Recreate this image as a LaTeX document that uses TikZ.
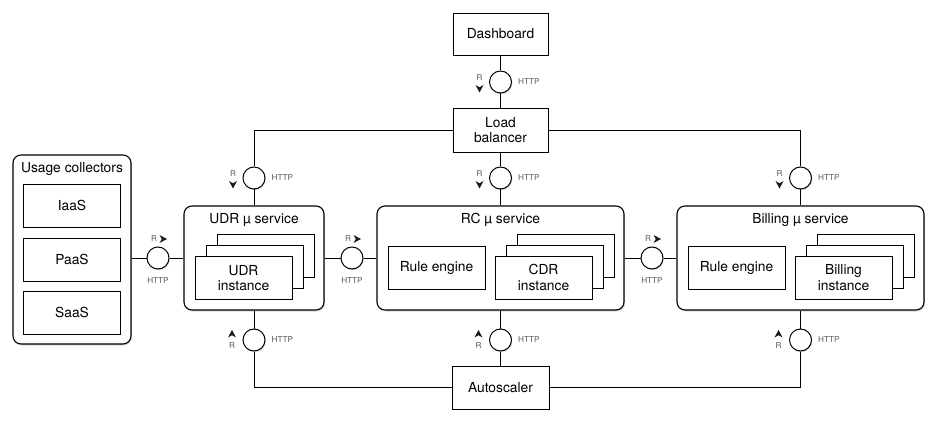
\documentclass[tikz,border=0pt]{standalone}
\usepackage{fontspec}
\setmainfont{TeX Gyre Heros}
\usetikzlibrary{shadows}

\tikzset{
  box/.style={draw, line width=0.8pt, fill=white, minimum width=97pt, minimum height=43pt, align=center, inner sep=2pt},
  service/.style={draw, line width=1.1pt, rounded corners=8pt, fill=white, drop shadow={shadow xshift=1pt, shadow yshift=-1.5pt, opacity=0.3}},
  iface/.style={circle, draw, line width=1pt, fill=white, minimum size=22pt, inner sep=0pt, drop shadow={shadow xshift=0.8pt, shadow yshift=-1.2pt, opacity=0.3}},
  small/.style={font=\fontsize{8.2}{9}\selectfont, text=black!65, inner sep=0pt},
  wire/.style={line width=0.8pt},
  rtip/.pic={\fill[black!90] (-3.5,-4) -- (4,0) -- (-3.5,4) -- (-1.2,0) -- cycle;}
}

\begin{document}
\begin{tikzpicture}[x=1pt, y=-1pt, font=\fontsize{13.8}{15.5}\selectfont]
\useasboundingbox (0,0) rectangle (937,422);

% containers
\node[service, minimum width=118pt, minimum height=189pt] (uc) at (72,249.5) {};
\node[service, minimum width=140pt, minimum height=104pt] (udr) at (254,258) {};
\node[service, minimum width=247pt, minimum height=104pt] (rc) at (500.5,258) {};
\node[service, minimum width=247pt, minimum height=104pt] (bill) at (800.5,258) {};

\node (uctitle) at (72,169) {Usage collectors};
\node (udrtitle) at (254,220) {UDR µ service};
\node (rctitle) at (500.5,220) {RC µ service};
\node (billtitle) at (800.5,220) {Billing µ service};

\node[box] (iaas) at (72,205.5) {IaaS};
\node[box] (paas) at (72,259.5) {PaaS};
\node[box] (saas) at (72,312.5) {SaaS};

% stacked instances
\foreach \d in {22, 11} {
\node[box] at (243.5 + \d, 278 - \d) {};
\node[box] at (543.5 + \d, 277.5 - \d) {};
\node[box] at (843.5 + \d, 277.5 - \d) {};
}
\node[box] (udrinst) at (243.5,278) {UDR\\instance};
\node[box] (cdrinst) at (543.5,277.5) {CDR\\instance};
\node[box] (billinst) at (843.5,277.5) {Billing\\instance};

\node[box] (rcrule) at (436.5,267.5) {Rule engine};
\node[box] (billrule) at (736.5,267.5) {Rule engine};

\node[box, minimum width=95pt, minimum height=42pt] (dash) at (500.5,34) {Dashboard};
\node[box, minimum width=95pt, minimum height=44pt] (lb) at (500.5,130) {Load\\balancer};
\node[box, minimum width=97pt, minimum height=43pt] (auto) at (500.5,387.5) {Autoscaler};

% interfaces
\node[iface] (ifdash) at (500.5,82) {};
\node[iface] (ifudrtop) at (254,178) {};
\node[iface] (ifrctop) at (500.5,178) {};
\node[iface] (ifbilltop) at (800.5,178) {};
\node[iface] (ifuc) at (158,258) {};
\node[iface] (ifudr) at (352,258) {};
\node[iface] (ifrc) at (652,258) {};
\node[iface] (ifudrbot) at (254,340) {};
\node[iface] (ifrcbot) at (500.5,340) {};
\node[iface] (ifbillbot) at (800.5,340) {};

% wires
\draw[wire] (dash) -- (ifdash) -- (lb);
\draw[wire] (lb.west) -| (ifudrtop);
\draw[wire] (ifudrtop) -- (udr);
\draw[wire] (lb) -- (ifrctop) -- (rc);
\draw[wire] (lb.east) -| (ifbilltop);
\draw[wire] (ifbilltop) -- (bill);

\draw[wire] (uc.east |- ifuc) -- (ifuc) -- (udr);
\draw[wire] (udr) -- (ifudr) -- (rc);
\draw[wire] (rc) -- (ifrc) -- (bill);

\draw[wire] (udr) -- (ifudrbot);
\draw[wire] (ifudrbot) |- (auto);
\draw[wire] (rc) -- (ifrcbot) -- (auto);
\draw[wire] (bill) -- (ifbillbot);
\draw[wire] (ifbillbot) |- (auto);

% interface labels
\foreach \n in {ifdash, ifudrtop, ifrctop, ifbilltop} {
\node[small] at ([xshift=-21pt, yshift=4.5pt]\n) {R};
\pic[rotate=-90] at ([xshift=-21pt, yshift=-6.5pt]\n) {rtip};
\node[small, anchor=west] at ([xshift=6pt]\n.east) {HTTP};
}
\foreach \n in {ifuc, ifudr, ifrc} {
\node[small] at ([xshift=-4pt, yshift=19pt]\n) {R};
\pic at ([xshift=5pt, yshift=19pt]\n) {rtip};
\node[small] at ([yshift=-23pt]\n) {HTTP};
}
\foreach \n in {ifudrbot, ifrcbot, ifbillbot} {
\node[small] at ([xshift=-22pt, yshift=-5.5pt]\n) {R};
\pic[rotate=90] at ([xshift=-22pt, yshift=6pt]\n) {rtip};
\node[small, anchor=west] at ([xshift=6pt]\n.east) {HTTP};
}

\end{tikzpicture}
\end{document}
